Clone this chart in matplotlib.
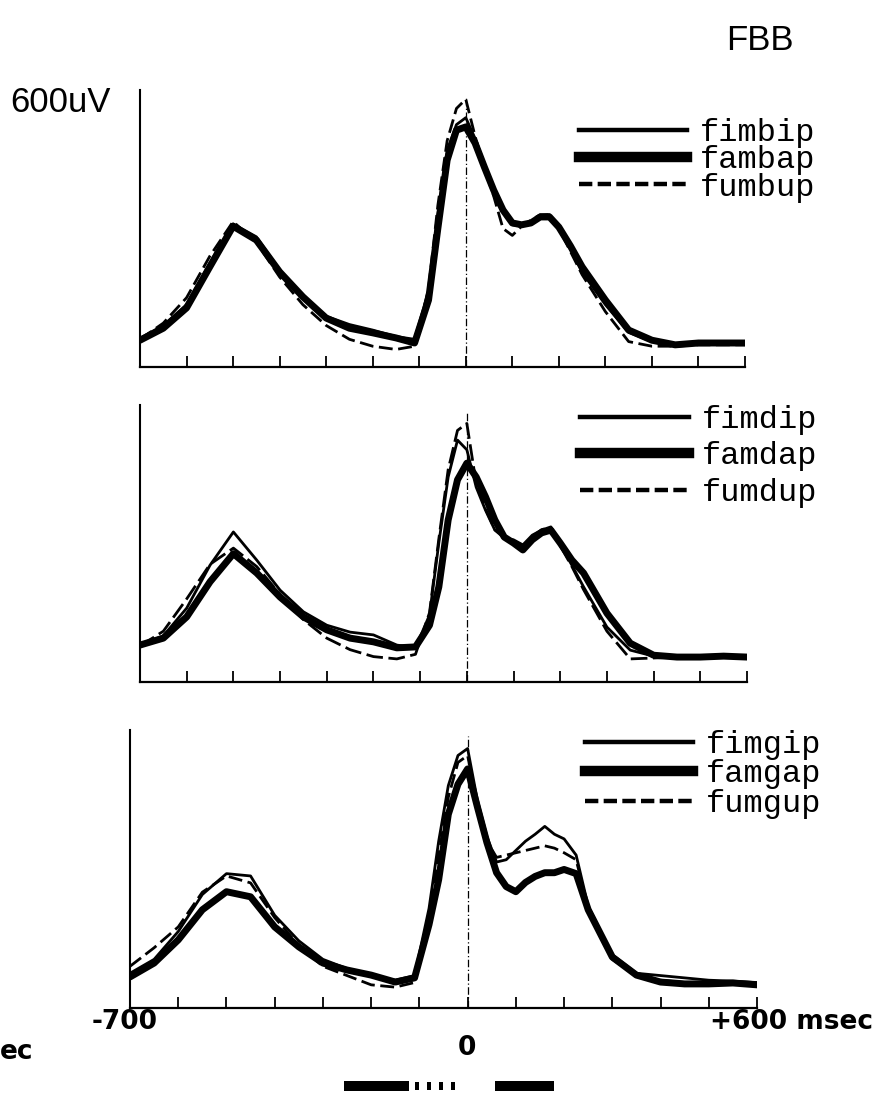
import numpy as np
import matplotlib
matplotlib.use("Agg")
import matplotlib.pyplot as plt
from matplotlib.lines import Line2D

# tiempo (ms), comun a todas las curvas
t_ms = [-700, -650, -600, -550, -500, -450, -400, -350, -300, -250, -200, -150,
        -110, -80, -60, -40, -20, 0, 20, 40, 60, 80, 100, 120, 140, 160, 180,
        200, 225, 250, 300, 350, 400, 450, 500, 550, 600]

# Panel 1 (uV)
fimbip = [62, 90, 135, 225, 310, 282, 210, 150, 110, 92, 80, 66, 60, 165, 330, 470,
          525, 540, 495, 440, 380, 335, 308, 305, 315, 328, 330, 300, 255, 205, 135,
          75, 55, 50, 52, 50, 50]
fambap = [58, 84, 128, 217, 305, 275, 206, 152, 106, 84, 74, 63, 52, 145, 300, 448,
          513, 520, 485, 433, 383, 340, 312, 308, 312, 325, 325, 303, 262, 217, 145,
          80, 58, 48, 52, 52, 52]
fumbup = [60, 95, 150, 240, 315, 270, 195, 135, 90, 60, 45, 38, 45, 170, 350, 490,
          560, 580, 500, 430, 370, 300, 285, 305, 318, 330, 330, 300, 250, 200, 120,
          55, 45, 45, 48, 48, 48]

# Panel 2
fimdip = [80, 100, 160, 253, 325, 264, 199, 152, 123, 108, 102, 80, 74, 145, 301,
          444, 524, 503, 422, 372, 329, 312, 308, 297, 318, 329, 336, 297, 253, 206,
          119, 69, 56, 54, 54, 56, 54]
famdap = [80, 95, 141, 217, 278, 236, 184, 141, 113, 95, 87, 74, 76, 123, 206, 351,
          438, 474, 444, 401, 351, 314, 301, 286, 308, 323, 329, 301, 264, 236, 149,
          84, 58, 54, 54, 56, 54]
fumdup = [78, 110, 180, 255, 290, 250, 190, 135, 95, 70, 55, 50, 60, 150, 310, 460,
          545, 560, 430, 375, 330, 315, 305, 295, 315, 330, 335, 295, 250, 200, 110,
          50, 52, 54, 54, 54, 54]

# Panel 3
fimgip = [75, 105, 165, 245, 290, 285, 200, 145, 105, 85, 70, 60, 70, 215, 360, 480,
          545, 560, 450, 370, 315, 320, 340, 360, 375, 392, 375, 365, 330, 220, 115,
          75, 70, 65, 60, 58, 55]
famgap = [67, 97, 147, 212, 251, 240, 175, 132, 97, 82, 71, 56, 65, 180, 277, 418,
          483, 516, 435, 357, 292, 262, 251, 271, 284, 292, 292, 299, 290, 212, 110,
          71, 56, 52, 52, 54, 50]
fumgup = [90, 130, 175, 250, 285, 270, 195, 135, 90, 70, 50, 45, 55, 190, 330, 455,
          530, 545, 440, 360, 325, 330, 335, 340, 345, 350, 345, 335, 320, 215, 105,
          70, 60, 55, 55, 55, 52]

paneles = [
    (["fimbip", "fambap", "fumbup"], [fimbip, fambap, fumbup]),
    (["fimdip", "famdap", "fumdup"], [fimdip, famdap, fumdup]),
    (["fimgip", "famgap", "fumgup"], [fimgip, famgap, fumgup]),
]

tick_ms = np.arange(-700, 601, 100)

# barras del estimulo bajo el eje (ms)
barras_ms = [(-257, 135), (56, 124)]
puntos_ms = [-105, -80, -55, -30]

##############################################################################

fig = plt.figure(figsize=(8.94, 10.97), dpi=100)

rects = [
    [140/894, (1097-367)/1097, 605/894, 277/1097],
    [140/894, (1097-682)/1097, 607/894, 277/1097],
    [130/894, (1097-1008)/1097, 627/894, 278/1097],
]
dashes = [(5, 2), (6, 2), (5, 2)]
leg_y = [0.9, 1.0, 1.0]
leg_sp = [-0.08, 0.2, -0.02]

for k, (rect, (labels, series)) in enumerate(zip(rects, paneles)):
    ax = fig.add_axes(rect)
    thin, thick, dash = series
    ax.plot(t_ms, thick, color="black", lw=5.0, solid_capstyle="round",
            solid_joinstyle="round")
    ax.plot(t_ms, thin, color="black", lw=2.0, solid_joinstyle="round")
    ax.plot(t_ms, dash, color="black", lw=2.0, dashes=dashes[k])
    # linea del cero
    ax.axvline(0, ymin=0, ymax=0.98, color="black", lw=0.9,
               ls=(0, (6, 2, 1, 2)))

    ax.set_xlim(-700, 600)
    ax.set_ylim(0, 600)
    ax.set_xticks(tick_ms)
    ax.set_yticks([])
    ax.tick_params(axis="x", direction="in", length=8, width=1.3,
                   labelbottom=False)
    for s in ["top", "right"]:
        ax.spines[s].set_visible(False)
    ax.spines["left"].set_linewidth(1.5)
    ax.spines["bottom"].set_linewidth(1.6)
    ax.patch.set_visible(False)

    handles = [
        Line2D([], [], color="black", lw=3.2),
        Line2D([], [], color="black", lw=7.5),
        Line2D([], [], color="black", lw=3.2, dashes=(3, 1.2)),
    ]
    ax.legend(handles, labels, loc="upper left",
              bbox_to_anchor=(0.725, leg_y[k]), frameon=False,
              prop={"family": ["Liberation Mono", "DejaVu Sans Mono"],
                    "size": 23},
              handlelength=3.4, handletextpad=0.4, labelspacing=leg_sp[k],
              borderpad=0, borderaxespad=0)

# barras de estimulo
axb = fig.add_axes([130/894, (1097-1091)/1097, 627/894, 10/1097])
axb.broken_barh(barras_ms, (0, 1), facecolors="black")
axb.bar(puntos_ms, 0.8, width=7, bottom=0.1, color="black")
axb.set_xlim(-700, 600)
axb.set_ylim(0, 1)
axb.axis("off")

cond = ["Liberation Sans Narrow", "Liberation Sans", "DejaVu Sans"]
fig.text(760/894, 1 - 40/1097, "FBB", fontsize=25, family=cond,
         ha="center", va="center")
fig.text(60/894, 1 - 102/1097, "600uV", fontsize=25, family=cond,
         ha="center", va="center")
fig.text(125/894, 1 - 1022/1097, "-700", fontsize=19,
         weight="bold", ha="center", va="center")
fig.text(467/894, 1 - 1048/1097, "0", fontsize=19,
         weight="bold", ha="center", va="center")
fig.text(792/894, 1 - 1022/1097, "+600 msec", fontsize=19,
         weight="bold", ha="center", va="center")
fig.text(0, 1 - 1052/1097, "ec", fontsize=19,
         weight="bold", ha="left", va="center")

fig.savefig("out.png", dpi=100)
